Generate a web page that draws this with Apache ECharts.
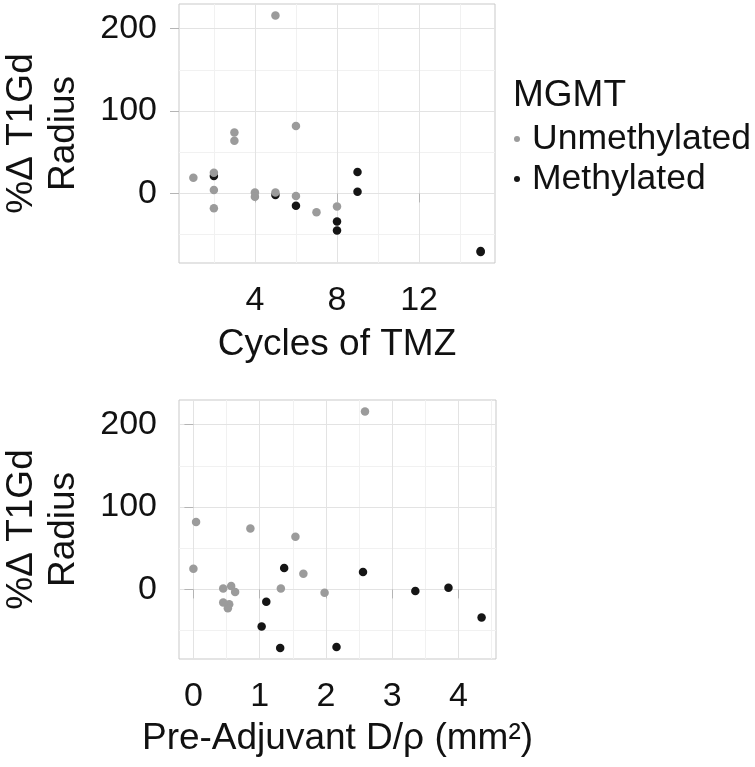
<!DOCTYPE html>
<html><head><meta charset="utf-8">
<script src="https://cdn.jsdelivr.net/npm/echarts@6/dist/echarts.min.js"></script>
<style>html,body{margin:0;padding:0;background:#fff}#c{width:755px;height:767px}</style>
</head><body><div id="c"></div>
<script>
// ---- data ----
const unmethCycles = [1, 2, 2, 2, 3, 3, 4, 4, 5, 5, 6, 6, 7, 8];
const unmethRadius = [19, 25, 4, -18, 74, 64, 1, -4, 216, 1, 82, -3, -23, -16];
const unmethDrho   = [1.66, 0.00, 0.57, 0.54, 0.86, 1.54, 0.45, 1.98, 2.59, 1.32, 0.04, 0.63, 0.52, 0.45];

const methCycles = [2, 5, 6, 8, 8, 9, 9, 15, 15];
const methRadius = [21, -2, -15, -34, -45, 26, 2, -70, -71];
const methDrho   = [2.56, 3.35, 1.10, 4.35, 1.03, 1.37, 3.85, 2.16, 1.31];

const cycleTicks = [4, 8, 12];
const cycleMinor = [2, 6, 10, 14];
const drhoTicks = [0, 1, 2, 3, 4];
const drhoMinor = [0.5, 1.5, 2.5, 3.5, 4.5];
const radiusTicks = [0, 100, 200];
const radiusMinor = [-50, 50, 150];

const seriesNames = ['Unmethylated', 'Methylated'];
const legendTitle = 'MGMT';
const yTitle = '%\u0394 T1Gd\nRadius';
const xTitleTop = 'Cycles of TMZ';
const xTitleBottom = 'Pre-Adjuvant D/\u03c1 (mm\u00b2)';

// ---- styling ----
const FONT = 'Liberation Sans, Arial, sans-serif';
const GRAY = '#9b9b9b', BLACK = '#151515';
const MAJOR = '#e3e3e3', MINOR = '#f1f1f1', BORDER = '#c9c9c9', TICK = '#b5b5b5';

function zip(a, b) { return a.map((v, i) => [v, b[i]]); }

function mainX(grid, min, max, ticks, title, gap) {
  return {
    type: 'value', gridIndex: grid, min: min, max: max,
    name: title, nameLocation: 'middle', nameGap: gap,
    nameTextStyle: { fontSize: 37, lineHeight: 42, color: '#111', fontFamily: FONT, verticalAlign: 'top' },
    axisLine: { show: false },
    axisTick: { show: true, length: 9, inside: false, customValues: ticks, lineStyle: { color: TICK, width: 1 } },
    axisLabel: { show: true, customValues: ticks, margin: 21, fontSize: 34, color: '#111', fontFamily: FONT },
    splitLine: { show: true, lineStyle: { color: MAJOR, width: 1 } },
    z: 1
  };
}
function minorX(grid, min, max, ticks) {
  return {
    type: 'value', gridIndex: grid, min: min, max: max,
    axisLine: { show: false },
    axisTick: { show: false, customValues: ticks },
    axisLabel: { show: false, customValues: ticks },
    splitLine: { show: true, lineStyle: { color: MINOR, width: 1 } },
    z: 0
  };
}
function mainY(grid, min, max, ticks) {
  return {
    type: 'value', gridIndex: grid, min: min, max: max,
    name: yTitle, nameLocation: 'middle', nameRotate: 90, nameGap: 94,
    nameTextStyle: { fontSize: 37, lineHeight: 42, color: '#111', fontFamily: FONT, align: 'center' },
    axisLine: { show: false },
    axisTick: { show: true, length: 9, customValues: ticks, lineStyle: { color: TICK, width: 1 } },
    axisLabel: { show: true, customValues: ticks, margin: 22, fontSize: 34, color: '#111', fontFamily: FONT },
    splitLine: { show: true, lineStyle: { color: MAJOR, width: 1 } },
    z: 1
  };
}
function minorY(grid, min, max, ticks) {
  return {
    type: 'value', gridIndex: grid, min: min, max: max,
    axisLine: { show: false },
    axisTick: { show: false, customValues: ticks },
    axisLabel: { show: false, customValues: ticks },
    splitLine: { show: true, lineStyle: { color: MINOR, width: 1 } },
    z: 0
  };
}

const Y_MIN = -84.5, Y_MAX = 230;
const chart = echarts.init(document.getElementById('c'), null, { renderer: 'canvas' });
chart.setOption({
  backgroundColor: '#ffffff',
  animation: false,
  textStyle: { fontFamily: FONT },
  title: {
    text: legendTitle, left: 508, top: 72,
    textStyle: { fontSize: 37, fontWeight: 'normal', color: '#111', fontFamily: FONT }
  },
  legend: {
    data: seriesNames, orient: 'vertical', left: 514, top: 119, padding: 0,
    icon: 'circle', itemWidth: 6, itemHeight: 6, itemGap: 0,
    textStyle: { fontSize: 35.5, lineHeight: 40, color: '#111', fontFamily: FONT, padding: [0, 0, 0, 7] }
  },
  grid: [
    { left: 177, top: 4, width: 318, height: 259, show: true, borderColor: BORDER, borderWidth: 1, backgroundColor: 'transparent' },
    { left: 177, top: 400, width: 319, height: 259, show: true, borderColor: BORDER, borderWidth: 1, backgroundColor: 'transparent' }
  ],
  xAxis: [
    mainX(0, 0.3, 15.7, cycleTicks, xTitleTop, 61),
    minorX(0, 0.3, 15.7, cycleMinor),
    mainX(1, -0.2175, 4.5675, drhoTicks, xTitleBottom, 59),
    minorX(1, -0.2175, 4.5675, drhoMinor)
  ],
  yAxis: [
    mainY(0, Y_MIN, Y_MAX, radiusTicks),
    minorY(0, Y_MIN, Y_MAX, radiusMinor),
    mainY(1, Y_MIN, Y_MAX, radiusTicks),
    minorY(1, Y_MIN, Y_MAX, radiusMinor)
  ],
  series: [
    { name: seriesNames[1], type: 'scatter', xAxisIndex: 0, yAxisIndex: 0, data: zip(methCycles, methRadius), symbolSize: 8.5, itemStyle: { color: BLACK, opacity: 1 }, z: 3 },
    { name: seriesNames[0], type: 'scatter', xAxisIndex: 0, yAxisIndex: 0, data: zip(unmethCycles, unmethRadius), symbolSize: 8.5, itemStyle: { color: GRAY, opacity: 1 }, z: 4 },
    { name: seriesNames[1], type: 'scatter', xAxisIndex: 2, yAxisIndex: 2, data: zip(methDrho, methRadius), symbolSize: 8.5, itemStyle: { color: BLACK, opacity: 1 }, z: 3 },
    { name: seriesNames[0], type: 'scatter', xAxisIndex: 2, yAxisIndex: 2, data: zip(unmethDrho, unmethRadius), symbolSize: 8.5, itemStyle: { color: GRAY, opacity: 1 }, z: 4 }
  ]
});
</script></body></html>
